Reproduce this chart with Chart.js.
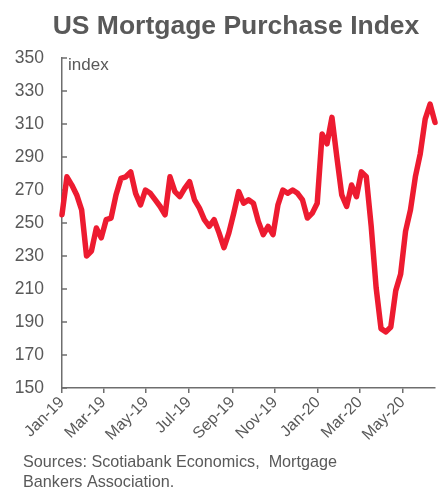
<!DOCTYPE html>
<html><head><meta charset="utf-8">
<script src="https://cdn.jsdelivr.net/npm/chart.js@4.4.0/dist/chart.umd.min.js"></script>
<style>html,body{margin:0;padding:0;background:#fff;} canvas{display:block;}</style>
</head><body>
<canvas id="c" width="445" height="493"></canvas>
<script>
// ---- data ----
const weekStart = '2019-01-01';   // first weekly observation, one value per week
const purchaseIndex = [
  255, 278, 273, 267, 258, 230, 233, 247, 241, 252,
  253, 267, 277, 278, 281, 268, 261, 270, 268, 264,
  260, 255, 278, 269, 266, 271, 275, 264, 259, 252,
  248, 252, 244, 235, 244, 256, 269, 262, 264, 262,
  251, 243, 248, 243, 261, 270, 268, 270, 268, 264,
  253, 256, 262, 304, 298, 314, 290, 267, 260, 273,
  266, 281, 278, 248, 211, 186, 184, 187, 209, 219,
  245, 258, 278, 292, 313, 322, 311
];
const tickMonths = ['2019-01-01','2019-03-01','2019-05-01','2019-07-01','2019-09-01',
                    '2019-11-01','2020-01-01','2020-03-01','2020-05-01'];
const tickLabels = ['Jan-19','Mar-19','May-19','Jul-19','Sep-19','Nov-19','Jan-20','Mar-20','May-20'];
const yMin = 150, yMax = 350, yStep = 20;
const titleText = 'US Mortgage Purchase Index';
const unitLabel = 'index';
const sourceLines = ['Sources: Scotiabank Economics,  Mortgage', 'Bankers Association.'];

// ---- derived ----
const DAY = 86400000;
const t0 = Date.parse(weekStart);
const dayOf = s => Math.round((Date.parse(s) - t0) / DAY);
const points = purchaseIndex.map((v, i) => ({ x: i * 7, y: v }));
const tickDays = tickMonths.map(dayOf);
const lastDay = (purchaseIndex.length - 1) * 7;

const AXIS = '#6e6e6e';
const TXT = '#595959';
const RED = '#ED1B30';
const FONT = '"Liberation Sans", Arial, sans-serif';

const decor = {
  id: 'decor',
  beforeDatasetsDraw(chart) {
    const ctx = chart.ctx, ys = chart.scales.y, area = chart.chartArea;
    ctx.save();
    ctx.strokeStyle = AXIS; ctx.lineWidth = 1.5;
    ys.ticks.forEach((t, i) => {
      const py = ys.getPixelForTick(i);
      ctx.beginPath(); ctx.moveTo(area.left, py); ctx.lineTo(area.left + 5, py); ctx.stroke();
    });
    ctx.restore();
  },
  afterDraw(chart) {
    const ctx = chart.ctx;
    ctx.save();
    ctx.fillStyle = TXT;
    ctx.textBaseline = 'alphabetic';
    ctx.font = 'bold 26.5px ' + FONT;
    ctx.textAlign = 'center';
    ctx.fillText(titleText, 236, 34);
    ctx.textAlign = 'left';
    ctx.font = '17px ' + FONT;
    ctx.fillText(unitLabel, 68, 70);
    ctx.font = '16.2px ' + FONT;
    sourceLines.forEach((s, i) => ctx.fillText(s, 23, 467 + 20 * i));
    ctx.restore();
  }
};

new Chart(document.getElementById('c'), {
  type: 'line',
  data: {
    datasets: [{
      data: points,
      borderColor: RED,
      borderWidth: 5.5,
      pointRadius: 0,
      tension: 0,
      borderJoinStyle: 'round',
      borderCapStyle: 'round',
      clip: false
    }]
  },
  options: {
    responsive: false,
    animation: false,
    layout: { padding: { top: 58, right: 10, left: 0, bottom: 0 } },
    plugins: { legend: { display: false }, tooltip: { enabled: false }, title: { display: false } },
    scales: {
      x: {
        type: 'linear',
        min: 0,
        max: lastDay,
        afterBuildTicks: s => { s.ticks = tickDays.map(v => ({ value: v })); },
        afterFit: s => { s.height = 105; },
        border: { display: true, color: AXIS, width: 1.5 },
        grid: { display: true, drawOnChartArea: false, drawTicks: true, tickLength: 5, color: AXIS, lineWidth: 1.5 },
        ticks: {
          autoSkip: false, minRotation: 45, maxRotation: 45, padding: 0,
          color: TXT, font: { family: FONT, size: 16 },
          callback: v => { const k = tickDays.indexOf(v); return k >= 0 ? tickLabels[k] : ''; }
        }
      },
      y: {
        min: yMin, max: yMax,
        afterFit: s => { s.width = 62; },
        border: { display: true, color: AXIS, width: 1.5 },
        grid: { display: false, drawTicks: false },
        ticks: { stepSize: yStep, padding: 18, color: TXT, font: { family: FONT, size: 17.5 } }
      }
    }
  },
  plugins: [decor]
});
</script>
</body></html>
